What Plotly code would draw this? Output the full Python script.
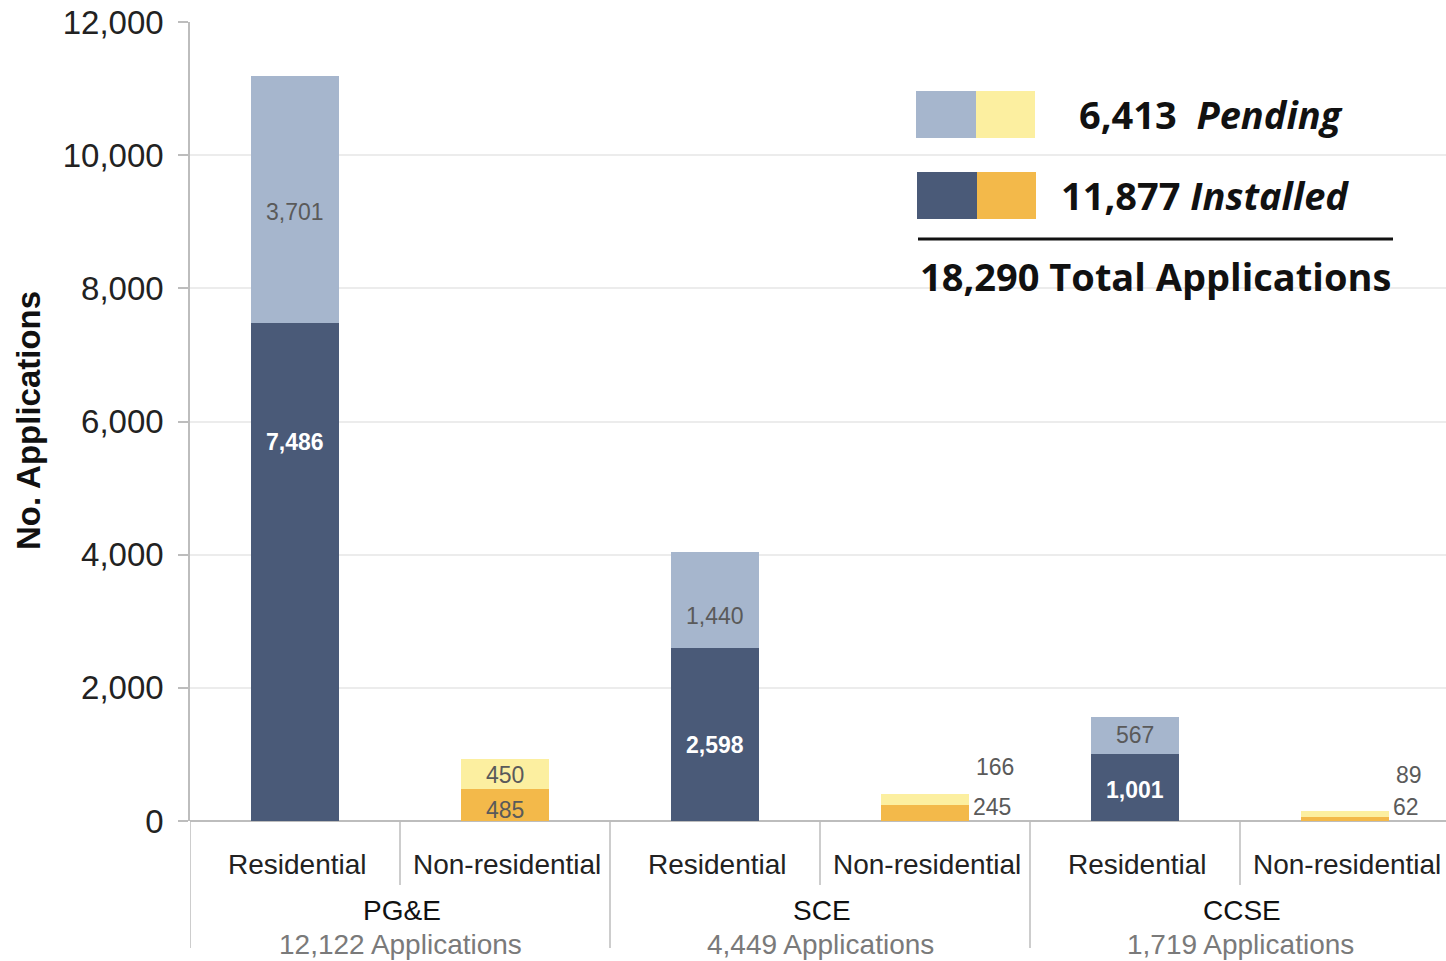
import plotly.graph_objects as go

# ---------------- data ----------------
utilities = ["PG&E", "SCE", "CCSE"]
utility_totals = ["12,122 Applications", "4,449 Applications", "1,719 Applications"]
segments = ["Residential", "Non-residential"]

res_installed = [7486, 2598, 1001]
res_pending = [3701, 1440, 567]
nonres_installed = [485, 245, 62]
nonres_pending = [450, 166, 89]

legend_pending = "6,413"
legend_installed = "11,877"
legend_total = "18,290"

y_ticks = [0, 2000, 4000, 6000, 8000, 10000, 12000]

# ---------------- style ----------------
C_RES_INST = "#4a5a78"
C_RES_PEND = "#a6b6cd"
C_NON_INST = "#f3b94a"
C_NON_PEND = "#fcefa0"
FONT = "Liberation Sans, Arial, sans-serif"
LEG_FONT = "Open Sans, Noto Sans, sans-serif"

BARW = 0.42
W, H = 1446, 961
PLOT_L, PLOT_T, PLOT_B = 190, 22, 821   # pixels
L = PLOT_L
T = PLOT_T
B = H - PLOT_B
R_ = 0
CAT_PX = 210.0
PLOT_W = W - L - R_
x_max = -0.5 + PLOT_W / CAT_PX

res_x = [2 * i for i in range(len(utilities))]
non_x = [2 * i + 1 for i in range(len(utilities))]

fig = go.Figure()
fig.add_trace(go.Bar(x=res_x, y=res_installed, width=BARW, marker=dict(color=C_RES_INST, line=dict(width=0)),
                     name="Installed (Residential)", showlegend=False, hoverinfo="y"))
fig.add_trace(go.Bar(x=res_x, y=res_pending, width=BARW, marker=dict(color=C_RES_PEND, line=dict(width=0)),
                     name="Pending (Residential)", showlegend=False, hoverinfo="y"))
fig.add_trace(go.Bar(x=non_x, y=nonres_installed, width=BARW, marker=dict(color=C_NON_INST, line=dict(width=0)),
                     name="Installed (Non-residential)", showlegend=False, hoverinfo="y"))
fig.add_trace(go.Bar(x=non_x, y=nonres_pending, width=BARW, marker=dict(color=C_NON_PEND, line=dict(width=0)),
                     name="Pending (Non-residential)", showlegend=False, hoverinfo="y"))

ann = []
LBL = 23
GRAY = "#5a5a5a"

def fmt(v):
    return f"{v:,}"

def A(**kw):
    kw.setdefault("showarrow", False)
    kw.setdefault("xanchor", "center")
    kw.setdefault("yanchor", "middle")
    ann.append(kw)

def py(p):
    return (PLOT_B - p) / (PLOT_B - PLOT_T)

def px(p):
    return (p - PLOT_L) / PLOT_W

# residential labels (inside bars); fraction of segment height where label sits
res_inst_frac = [0.76, 0.44, 0.47]
res_pend_frac = [0.45, 0.33, 0.51]
for i in range(len(utilities)):
    inst, pend = res_installed[i], res_pending[i]
    A(x=res_x[i], y=inst * res_inst_frac[i], text=f"<b>{fmt(inst)}</b>",
      font=dict(family=FONT, size=LBL, color="white"))
    A(x=res_x[i], y=inst + pend * res_pend_frac[i], text=fmt(pend),
      font=dict(family=FONT, size=LBL, color=GRAY))

# non-residential labels
# PG&E: inside
A(x=non_x[0], y=nonres_installed[0] * 0.34, text=fmt(nonres_installed[0]),
  font=dict(family=FONT, size=LBL, color=GRAY))
A(x=non_x[0], y=nonres_installed[0] + nonres_pending[0] * 0.46, text=fmt(nonres_pending[0]),
  font=dict(family=FONT, size=LBL, color=GRAY))
# SCE / CCSE: outside to the right
out_pend_y = [None, 811, 691]
for i in (1, 2):
    A(x=non_x[i] + 0.21, y=0, yshift=14, xanchor="left", xshift=2, text=fmt(nonres_installed[i]),
      font=dict(family=FONT, size=LBL, color=GRAY))
    A(x=non_x[i] + 0.21, y=out_pend_y[i], xanchor="left", xshift=5, text=fmt(nonres_pending[i]),
      font=dict(family=FONT, size=LBL, color=GRAY))

# category labels
for i in range(len(utilities)):
    for j, seg in enumerate(segments):
        A(x=2 * i + j, y=py(864), yref="paper", text=seg, xshift=2,
          font=dict(family=FONT, size=28, color="#222222"))
    A(x=2 * i + 0.5, y=py(910), yref="paper", text=utilities[i], xshift=2,
      font=dict(family=FONT, size=28, color="#111111"))
    A(x=2 * i + 0.5, y=py(944), yref="paper", text=utility_totals[i],
      font=dict(family=FONT, size=28, color="#7a7a7a"))

# y-axis title
A(x=px(28), y=py(421), xref="paper", yref="paper", text="<b>No. Applications</b>", textangle=-90,
  font=dict(family=FONT, size=33, color="#111111"))

# legend text
A(x=px(1211), y=py(114), xref="paper", yref="paper",
  text=f"<b>{legend_pending}  <i>Pending</i></b>",
  font=dict(family=LEG_FONT, size=38, color="#111111"))
A(x=px(1205), y=py(195), xref="paper", yref="paper",
  text=f"<b>{legend_installed} <i>Installed</i></b>",
  font=dict(family=LEG_FONT, size=38, color="#111111"))
A(x=px(1155), y=py(276), xref="paper", yref="paper",
  text=f"<b>{legend_total} Total Applications</b>",
  font=dict(family=LEG_FONT, size=38, color="#111111"))

shapes = []
# legend swatches
for (x0, x1, y0, y1, c) in [(916, 976, 91, 138, C_RES_PEND), (976, 1035, 91, 138, C_NON_PEND),
                            (917, 977, 172, 219, C_RES_INST), (977, 1036, 172, 219, C_NON_INST)]:
    shapes.append(dict(type="rect", xref="paper", yref="paper", x0=px(x0), x1=px(x1), y0=py(y1), y1=py(y0),
                       fillcolor=c, line=dict(width=0)))
shapes.append(dict(type="line", xref="paper", yref="paper", x0=px(918), x1=px(1393), y0=py(239), y1=py(239),
                   line=dict(color="#111111", width=3)))

# category dividers
for i in range(len(utilities)):
    shapes.append(dict(type="line", xref="x", yref="paper", x0=2 * i + 0.5, x1=2 * i + 0.5, y0=0, y1=py(885),
                       line=dict(color="#bdbdbd", width=1.5)))
    shapes.append(dict(type="line", xref="x", yref="paper", x0=2 * i - 0.5, x1=2 * i - 0.5, y0=0, y1=py(948),
                       line=dict(color="#bdbdbd", width=1.5)))

fig.update_layout(
    width=W, height=H, autosize=False,
    margin=dict(l=L, r=R_, t=T, b=B, autoexpand=False),
    paper_bgcolor="white", plot_bgcolor="white",
    barmode="stack", bargap=0,
    showlegend=False,
    annotations=ann, shapes=shapes,
    xaxis=dict(range=[-0.5, x_max], showticklabels=False, showgrid=False, zeroline=False,
               showline=False, ticks="", automargin=False),
    yaxis=dict(range=[0, 12000], tickvals=y_ticks, ticktext=[f"{v:,}" for v in y_ticks],
               tickfont=dict(family=FONT, size=33, color="#222222"),
               showgrid=True, gridcolor="#ececec", gridwidth=1.5,
               zeroline=True, zerolinecolor="#bdbdbd", zerolinewidth=1.5,
               showline=True, linecolor="#bdbdbd", linewidth=1.5,
               ticks="outside", ticklen=10, tickcolor="#bdbdbd", tickwidth=1.5,
               ticklabelstandoff=8, ticklabeloverflow="allow", automargin=False),
)

fig.write_html("out.html",
               config={"displayModeBar": False},
               post_script="document.body.style.margin='0';document.body.style.overflow='hidden';")
